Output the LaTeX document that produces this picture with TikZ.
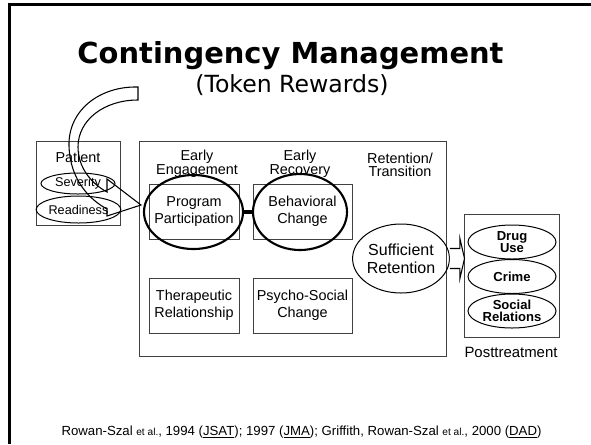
\documentclass[tikz,border=0pt]{standalone}
\usepackage{fontspec}
\setmainfont{Liberation Sans}
\newfontfamily\titlefont{DejaVu Sans}
\usetikzlibrary{shapes.geometric,calc}
\begin{document}
\begin{tikzpicture}[x=0.75pt,y=-0.75pt,
  frame/.style={draw=black!75, line width=0.75pt, inner sep=0pt},
  box/.style={frame, minimum height=41.25pt, align=center, font=\fontsize{10.8}{12.75}\selectfont},
  head/.style={align=center, inner sep=0pt, font=\fontsize{10.8}{9}\selectfont},
  oval/.style={draw, ellipse, line width=0.75pt, inner sep=0pt, align=center},
  bigoval/.style={draw, ellipse, line width=1.6pt, inner sep=0pt},
  outoval/.style={oval, minimum width=66pt, minimum height=25.5pt, font=\bfseries\fontsize{9.8}{9.2}\selectfont},
  patoval/.style={oval, minimum width=55.5pt, font=\fontsize{9.5}{11}\selectfont},
  blockarrow/.style={draw, line width=0.8pt, line join=miter}
]
\useasboundingbox (0,0) rectangle (591,444);
% slide frame
\draw[line width=2.25pt] (9,444) -- (9,4.5) -- (591,4.5);

% titles
\node[font=\titlefont\bfseries\fontsize{21.7}{24}\selectfont, inner sep=0pt, anchor=base] (title) at (290.5,63) {Contingency Management};
\node[font=\titlefont\fontsize{17.7}{20}\selectfont, inner sep=0pt, anchor=base] (subtitle) at (292,92) {(Token Rewards)};

% patient box
\node[frame, minimum width=63pt, minimum height=63pt] (patbox) at (78,183) {};
\node[head] (patient) at (78,157) {Patient};
\node[patoval, minimum height=15.75pt] (sev) at (78,183.5) {Severity};
\node[patoval, minimum height=20.25pt] (read) at (78.5,209.5) {Readiness};

% main box
\node[frame, minimum width=230.25pt, minimum height=161.25pt] (main) at (292.5,248.5) {};
\node[head] (eng) at (197,164) {Early\\Engagement};
\node[head] (rec) at (300,164) {Early\\Recovery};
\node[head, font=\fontsize{10.8}{10}\selectfont] (ret) at (400,165) {Retention/\\Transition};

\node[box, minimum width=67.5pt] (pp) at (194,211.5) {Program\\Participation};
\node[box, minimum width=74.25pt] (bc) at (302.5,211.5) {Behavioral\\Change};
\node[box, minimum width=67.5pt] (tr) at (194,305.5) {Therapeutic\\Relationship};
\node[box, minimum width=74.25pt] (psc) at (302.5,305.5) {Psycho-Social\\Change};

\node[bigoval, minimum width=74.25pt, minimum height=55.5pt] (ppo) at (193.5,212) {};
\node[bigoval, minimum width=70.5pt, minimum height=57pt] (bco) at (300,212) {};
\draw[line width=3pt] (ppo.east) -- (bco.west);

\node[oval, minimum width=66pt, minimum height=51.75pt, font=\fontsize{12}{13.5}\selectfont] (sr) at (401,258.5) {Sufficient\\Retention};

% posttreatment
\node[frame, minimum width=71.25pt, minimum height=92.25pt] (post) at (511.5,275.5) {};
\node[outoval] (drug) at (512,242) {Drug\\Use};
\node[outoval] (crime) at (512,276.5) {Crime};
\node[outoval] (social) at (512,311) {Social\\Relations};
\node[inner sep=0pt, font=\fontsize{11.2}{13}\selectfont] (postlbl) at (511,352) {Posttreatment};

% block arrow to posttreatment
\draw[blockarrow, fill=white]
  ($(sr.east)+(0,-10)$) -- ++(10,0) -- ++(0,-10) -- ($(post.west |- sr.east)+(1,0)$)
  -- ($(sr.east)+(10,20)$) -- ++(0,-10) -- ($(sr.east)+(0,10)$);

% big curved arrow (token rewards)
\coordinate (tailtop) at (138,87);
\coordinate (tailbot) at (138,100);
\coordinate (tip) at (141,205);
\draw[blockarrow]
  (tailtop) .. controls (100,86) and (68,110) .. (69,146)
  .. controls (70,180) and (90,200) .. (107,209)
  -- (107,216) -- (tip) -- (107,179) -- (107,192)
  .. controls (92,184) and (78,168) .. (78,147)
  .. controls (78,120) and (104,100) .. (tailbot) -- cycle;

% reference
\node[inner sep=0pt, font=\fontsize{9.9}{11}\selectfont] (refs) at (301.5,432)
  {Rowan-Szal {\fontsize{7.6}{9}\selectfont et al.}, 1994 (\underline{JSAT}); 1997 (\underline{JMA}); Griffith, Rowan-Szal {\fontsize{7.6}{9}\selectfont et al.}, 2000 (\underline{DAD})};
\end{tikzpicture}
\end{document}
